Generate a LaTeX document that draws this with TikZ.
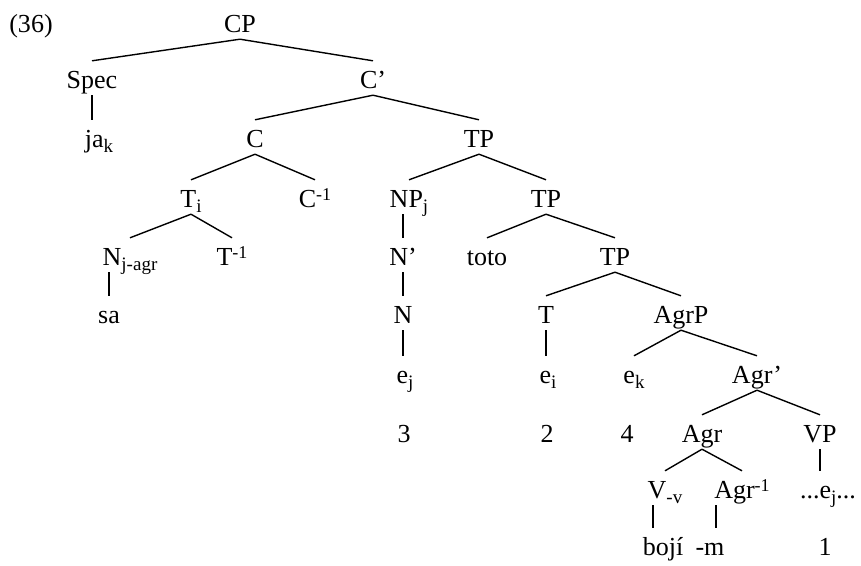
\documentclass[tikz,border=0pt]{standalone}
\usepackage{fontspec}
\setmainfont{Liberation Serif}
\newcommand\lsub[1]{\raisebox{-5pt}{\fontsize{19}{19}\selectfont #1}}
\newcommand\lsup[1]{\raisebox{7pt}{\fontsize{18}{18}\selectfont #1}}
\begin{document}
\begin{tikzpicture}[x=1pt,y=-1pt,
  lab/.style={anchor=base, inner sep=0pt, text height=27pt, text depth=7pt, font=\fontsize{26}{30}\selectfont},
  edge/.style={line width=1.4pt}]
\useasboundingbox (0,0) rectangle (861,565);
\node[lab] (ex) at (31,32) {(36)};
\node[lab] (CP) at (240,32) {CP};
\node[lab] (Spec) at (92,88) {Spec};
\node[lab] (Cbar) at (373,88) {C’};
\node[lab] (jak) at (99,147) {ja\lsub{k}};
\node[lab] (C) at (255,147) {C};
\node[lab] (TPa) at (479,147) {TP};
\node[lab] (Ti) at (191,207) {T\lsub{i}};
\node[lab] (Cinv) at (315,207) {C\lsup{-1}};
\node[lab] (NPj) at (409,207) {NP\lsub{j}};
\node[lab] (TPb) at (546,207) {TP};
\node[lab] (Nagr) at (130,265) {N\lsub{j-agr}};
\node[lab] (Tinv) at (232,265) {T\lsup{-1}};
\node[lab] (Nbar) at (403,265) {N’};
\node[lab] (toto) at (487,265) {toto};
\node[lab] (TPc) at (615,265) {TP};
\node[lab] (sa) at (109,323) {sa};
\node[lab] (N) at (403,323) {N};
\node[lab] (T) at (546,323) {T};
\node[lab] (AgrP) at (681,323) {AgrP};
\node[lab] (ej) at (405,383) {e\lsub{j}};
\node[lab] (ei) at (548,383) {e\lsub{i}};
\node[lab] (ek) at (634,383) {e\lsub{k}};
\node[lab] (Agrbar) at (757,383) {Agr’};
\node[lab] (n3) at (404,442) {3};
\node[lab] (n2) at (547,442) {2};
\node[lab] (n4) at (627,442) {4};
\node[lab] (Agr) at (702,442) {Agr};
\node[lab] (VP) at (820,442) {VP};
\node[lab] (Vv) at (665,498) {V\lsub{-v}};
\node[lab] (Agrinv) at (742,498) {Agr\lsup{-1}};
\node[lab] (ejd) at (828,498) {...e\lsub{j}...};
\node[lab] (boji) at (663,555) {bojí};
\node[lab] (m) at (710,555) {-m};
\node[lab] (n1) at (825,555) {1};
\coordinate (vtop) at ([xshift=-12pt]Vv.south);
\coordinate (mtop) at ([xshift=6pt]m.north);
\draw[edge] (CP.south) -- (Spec.north);
\draw[edge] (CP.south) -- (Cbar.north);
\draw[edge] (Spec.south) -- (Spec.south |- jak.north);
\draw[edge] (Cbar.south) -- (C.north);
\draw[edge] (Cbar.south) -- (TPa.north);
\draw[edge] (C.south) -- (Ti.north);
\draw[edge] (C.south) -- (Cinv.north);
\draw[edge] (TPa.south) -- (NPj.north);
\draw[edge] (TPa.south) -- (TPb.north);
\draw[edge] (Ti.south) -- (Nagr.north);
\draw[edge] (Ti.south) -- (Tinv.north);
\draw[edge] (Nbar.north |- NPj.south) -- (Nbar.north);
\draw[edge] (TPb.south) -- (toto.north);
\draw[edge] (TPb.south) -- (TPc.north);
\draw[edge] (sa.north |- Nagr.south) -- (sa.north);
\draw[edge] (Nbar.south) -- (N.north);
\draw[edge] (TPc.south) -- (T.north);
\draw[edge] (TPc.south) -- (AgrP.north);
\draw[edge] (N.south) -- (N.south |- ej.north);
\draw[edge] (T.south) -- (T.south |- ei.north);
\draw[edge] (AgrP.south) -- (ek.north);
\draw[edge] (AgrP.south) -- (Agrbar.north);
\draw[edge] (Agrbar.south) -- (Agr.north);
\draw[edge] (Agrbar.south) -- (VP.north);
\draw[edge] (Agr.south) -- (Vv.north);
\draw[edge] (Agr.south) -- (Agrinv.north);
\draw[edge] (VP.south) -- (VP.south |- ejd.north);
\draw[edge] (vtop) -- (vtop |- boji.north);
\draw[edge] (mtop |- Agrinv.south) -- (mtop);
\end{tikzpicture}
\end{document}
